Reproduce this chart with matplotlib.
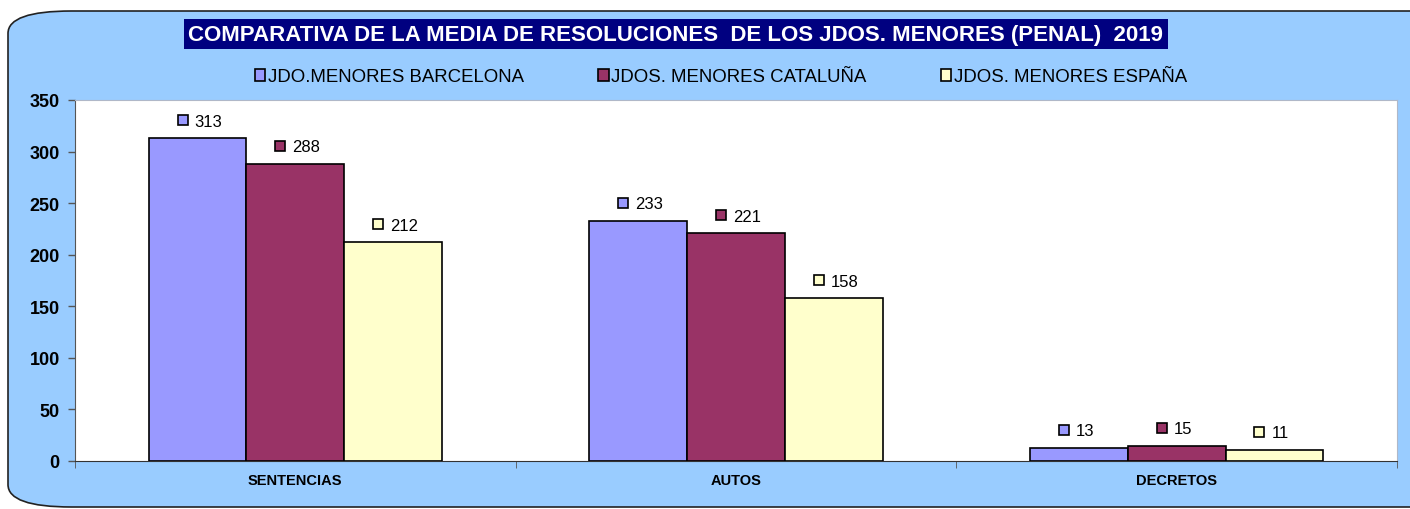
import matplotlib
matplotlib.use("Agg")
import matplotlib.pyplot as plt
import matplotlib.patches as mpatches
from matplotlib.transforms import offset_copy
import numpy as np

# ── Data ──────────────────────────────────────────────────────────────────────
categories = ["SENTENCIAS", "AUTOS", "DECRETOS"]
series_names = ["JDO.MENORES BARCELONA", "JDOS. MENORES CATALUÑA", "JDOS. MENORES ESPAÑA"]
barcelona = [313, 233, 13]
cataluna = [288, 221, 15]
espana = [212, 158, 11]
yticks = [0, 50, 100, 150, 200, 250, 300, 350]
title = "COMPARATIVA DE LA MEDIA DE RESOLUCIONES  DE LOS JDOS. MENORES (PENAL)  2019"

# ── Style ─────────────────────────────────────────────────────────────────────
BG     = "#99ccff"
NAVY   = "#000080"
COLORS = ["#9999ff", "#993366", "#ffffcc"]

plt.rcParams["font.family"] = ["Liberation Sans", "DejaVu Sans"]

fig = plt.figure(figsize=(14.1, 5.1), dpi=100, facecolor="white")

# rounded blue chart area
frame = mpatches.FancyBboxPatch((8 / 1410, 2 / 510), 1.05, 496 / 510,
                                boxstyle="round,pad=0,rounding_size=0.045",
                                transform=fig.transFigure, facecolor=BG,
                                edgecolor="#222222", lw=1.2, mutation_aspect=510 / 1410 * 2.7,
                                zorder=-5)
fig.patches.append(frame)

ax = fig.add_axes([75 / 1410, 1 - 462 / 510, (1397 - 75) / 1410, (462 - 101) / 510])
ax.set_facecolor("white")

x = np.arange(len(categories))
width = 0.222
all_series = [barcelona, cataluna, espana]
for i, (vals, color, name) in enumerate(zip(all_series, COLORS, series_names)):
    xs = x + (i - 1) * width
    ax.bar(xs, vals, width, color=color, edgecolor="black", lw=1.2, label=name, zorder=3)
    for xi, v in zip(xs, vals):
        mk = offset_copy(ax.transData, fig=fig, x=-15, y=18, units="dots")
        ax.plot(xi, v, marker="s", ms=6.5, mfc=color, mec="black", mew=1.2,
                transform=mk, clip_on=False, zorder=4)
        tt = offset_copy(ax.transData, fig=fig, x=-3, y=17, units="dots")
        ax.text(xi, v, str(v), transform=tt, fontsize=12, ha="left", va="center")

ax.set_xlim(-0.5, len(categories) - 0.5)
ax.set_ylim(0, 350)
ax.set_yticks(yticks)
ax.set_yticklabels([str(t) for t in yticks], fontsize=13, fontweight="bold")
ax.set_xticks(x)
ax.set_xticklabels(categories, fontsize=10.5, fontweight="bold")
ax.tick_params(axis="x", length=0, pad=9)
ax.tick_params(axis="y", length=5, width=1, color="#555555", pad=6)
# category separator ticks
ax.set_xticks(np.arange(-0.5, len(categories)), minor=True)
ax.tick_params(axis="x", which="minor", length=5, color="#555555")

ax.spines["left"].set_color("#555555")
ax.spines["bottom"].set_color("#333333")
ax.spines["top"].set_color("#b0b8c8")
ax.spines["right"].set_color("#b0b8c8")

# title
fig.text(676 / 1410, 1 - 35 / 510, title, ha="center", va="center",
         fontsize=16, fontweight="bold", color="white",
         bbox=dict(boxstyle="square,pad=0.22", facecolor=NAVY, edgecolor="none"))

# legend
handles = [mpatches.Patch(facecolor=c, edgecolor="black", lw=1.2) for c in COLORS]
fig.legend(handles, series_names, loc="center", ncol=3,
           bbox_to_anchor=(721 / 1410, 1 - 78 / 510), frameon=False,
           fontsize=13.4, handlelength=0.55, handleheight=0.55,
           handletextpad=0.15, columnspacing=4.0)

fig.savefig("out.png", dpi=100, facecolor="white")
